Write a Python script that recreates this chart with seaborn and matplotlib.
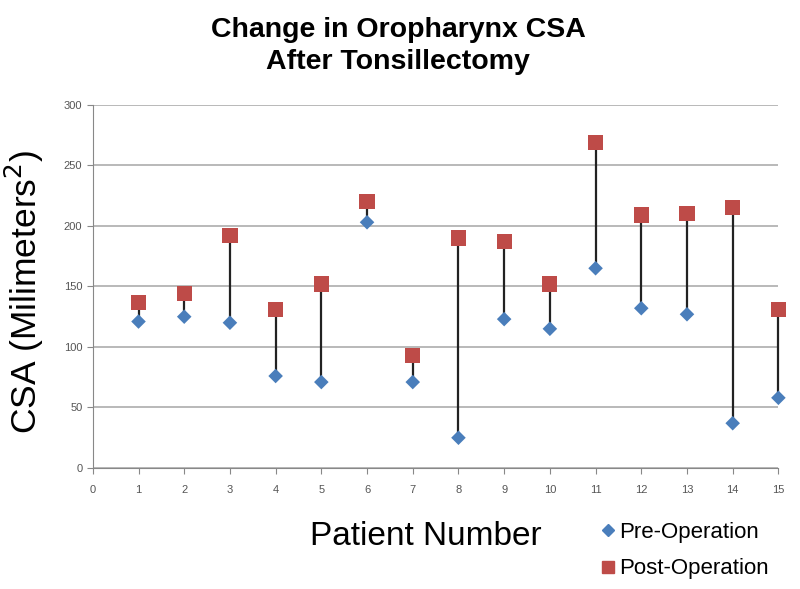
import pandas as pd
import matplotlib
matplotlib.use('Agg')
import matplotlib.pyplot as plt
import seaborn as sns

patients = list(range(1, 16))
pre_op = [121, 125, 120, 76, 71, 203, 71, 25, 123, 115, 165, 132, 127, 37, 58]
post_op = [137, 144, 192, 131, 152, 220, 93, 190, 187, 152, 269, 209, 210, 215, 131]
series_names = ['Pre-Operation', 'Post-Operation']
y_ticks = [0, 50, 100, 150, 200, 250, 300]
x_ticks = list(range(0, 16))


def main(out_path='out.png'):
    sns.set_style('white')
    plt.rcParams['font.family'] = ['Liberation Sans', 'DejaVu Sans']
    plt.rcParams['text.color'] = 'black'

    df = pd.DataFrame({
        'Patient': patients * 2,
        'CSA': pre_op + post_op,
        'Stage': [series_names[0]] * len(patients) + [series_names[1]] * len(patients),
    })

    fig = plt.figure(figsize=(8, 5.89), dpi=100)
    ax = fig.add_axes([0.116, 0.2054, 0.857, 0.6166])

    # connecting lines from pre to post value
    ax.vlines(patients, pre_op, post_op, colors='#222222', linewidth=1.6,
              zorder=2, clip_on=False)

    sns.scatterplot(data=df, x='Patient', y='CSA', hue='Stage', style='Stage',
                    hue_order=series_names, style_order=series_names,
                    palette={'Pre-Operation': '#4a7ebb', 'Post-Operation': '#be4b48'},
                    markers={'Pre-Operation': 'D', 'Post-Operation': 's'},
                    size='Stage', sizes={'Pre-Operation': 55, 'Post-Operation': 120},
                    edgecolor='none', linewidth=0, ax=ax, zorder=3, legend=False,
                    clip_on=False)

    ax.set_xlim(0, 15)
    ax.set_ylim(0, 300)
    ax.set_xticks(x_ticks)
    ax.set_yticks(y_ticks)
    ax.yaxis.grid(True, color='#a6a6a6', linewidth=1.1)
    ax.set_axisbelow(True)
    for side in ['top', 'right']:
        ax.spines[side].set_visible(False)
    for side in ['left', 'bottom']:
        ax.spines[side].set_color('#888888')
    ax.tick_params(axis='both', colors='#888888', labelcolor='#555555',
                   labelsize=8, length=4, direction='out', left=True, bottom=True)
    ax.tick_params(axis='x', pad=8)

    ax.set_xlabel('Patient Number', fontsize=24, color='black')
    ax.xaxis.set_label_coords(0.485, -0.145)
    ax.set_ylabel('CSA (Milimeters$^2$)', fontsize=25.5, color='black')
    ax.yaxis.set_label_coords(-0.068, 0.485)

    fig.text(0.4975, 0.922, 'Change in Oropharynx CSA\nAfter Tonsillectomy',
             ha='center', va='center', fontsize=20.5, fontweight='bold',
             linespacing=1.3, color='black')

    handles = [
        plt.Line2D([], [], marker='D', color='#4a7ebb', linestyle='none', markersize=6),
        plt.Line2D([], [], marker='s', color='#be4b48', linestyle='none', markersize=9),
    ]
    fig.legend(handles, series_names, loc='center left',
               bbox_to_anchor=(0.732, 0.065), frameon=False, fontsize=16,
               handletextpad=0.0, labelspacing=0.7, handlelength=1.0,
               borderpad=0.0)

    fig.savefig(out_path, dpi=100)


if __name__ == '__main__':
    main()
